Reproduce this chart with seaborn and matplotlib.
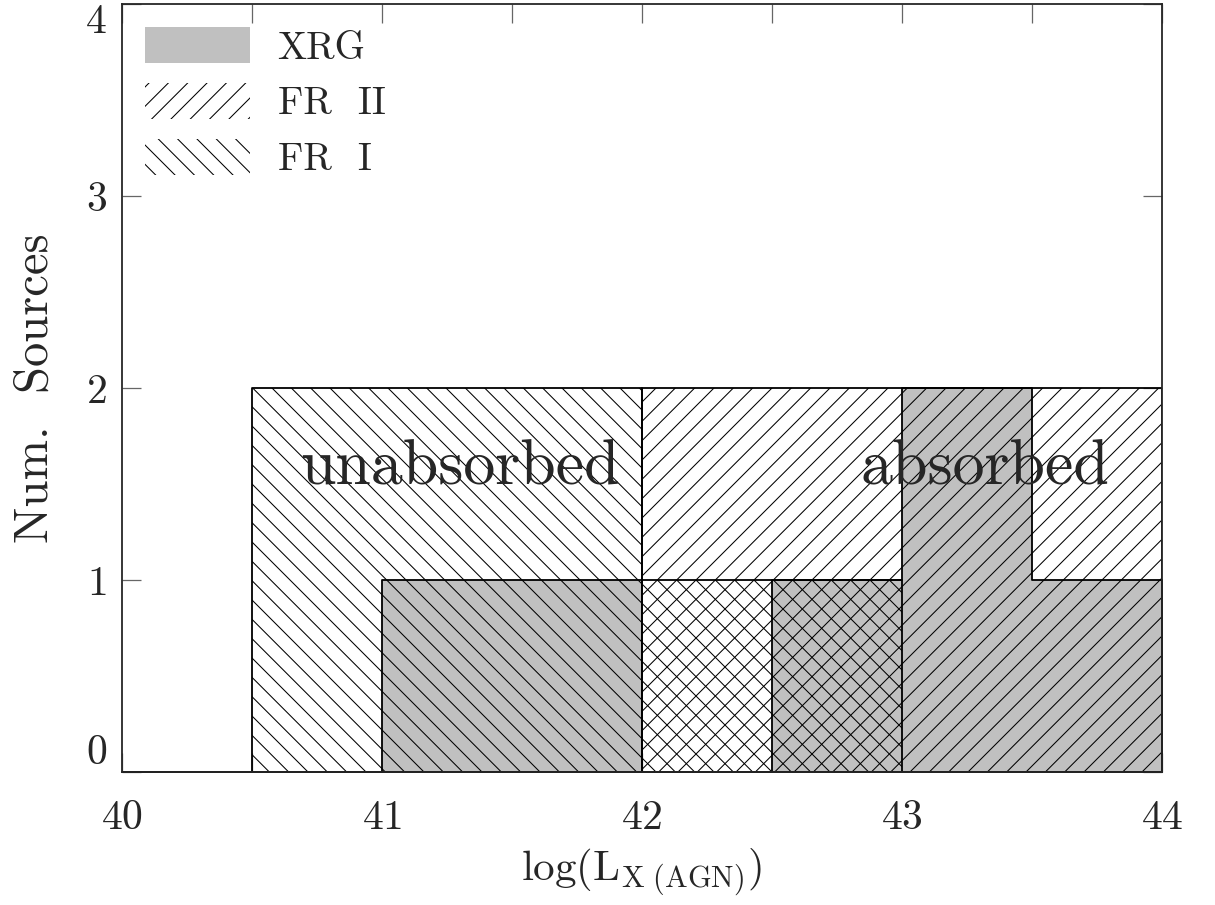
import matplotlib
matplotlib.use("Agg")
import matplotlib.pyplot as plt
from matplotlib.patches import Patch
from matplotlib.ticker import MultipleLocator
import seaborn as sns

# histogram bins in log(L_X) and counts per sample
bin_edges = [40.0, 40.5, 41.0, 41.5, 42.0, 42.5, 43.0, 43.5, 44.0]
bin_centers = [40.25, 40.75, 41.25, 41.75, 42.25, 42.75, 43.25, 43.75]
xrg_counts = [0, 0, 1, 1, 0, 1, 2, 1]
fr2_counts = [0, 0, 0, 0, 2, 2, 2, 2]
fr1_counts = [0, 2, 2, 2, 1, 1, 0, 0]
labels = ["XRG", "FR  II", "FR  I"]

# hatch spacing follows the dpi, so render at 116 dpi and rescale sizes
DPI = 116
k = 100 / DPI

sns.set_style("ticks")
plt.rcParams["font.family"] = ["cmr10", "DejaVu Serif"]
plt.rcParams["mathtext.fontset"] = "cm"
plt.rcParams["axes.formatter.use_mathtext"] = True
plt.rcParams["hatch.color"] = "black"
plt.rcParams["hatch.linewidth"] = 0.75 * k

fig = plt.figure(figsize=(1215 / DPI, 905 / DPI), dpi=DPI)
ax = fig.add_axes([0.1004, 0.147, 0.856, 0.8486])

gray = "#c0c0c0"
clear = (1, 1, 1, 0)
lw = 1.3 * k
sns.histplot(x=bin_centers, weights=xrg_counts, bins=bin_edges, element="step",
             fill=True, color=gray, facecolor=gray, edgecolor="black",
             linewidth=lw, ax=ax)
sns.histplot(x=bin_centers, weights=fr2_counts, bins=bin_edges, element="step",
             fill=True, color="black", facecolor=clear, edgecolor="black",
             hatch="//", linewidth=lw, ax=ax)
sns.histplot(x=bin_centers, weights=fr1_counts, bins=bin_edges, element="step",
             fill=True, color="black", facecolor=clear, edgecolor="black",
             hatch="\\\\", linewidth=lw, ax=ax)

ax.set_xlim(40, 44)
ax.set_ylim(0, 4)
ax.xaxis.set_major_locator(MultipleLocator(1))
ax.xaxis.set_minor_locator(MultipleLocator(0.5))
ax.yaxis.set_major_locator(MultipleLocator(1))
ax.tick_params(which="both", direction="in", top=True, right=True,
               length=14 * k, width=0.9 * k, color="#666666", labelsize=30 * k)
ax.tick_params(axis="x", pad=20 * k)
ax.tick_params(axis="y", pad=11 * k)
for s in ax.spines.values():
    s.set_linewidth(lw)

# keep the end labels of the y axis inside the frame
fig.canvas.draw()
for t in ax.yaxis.get_major_ticks():
    if t.get_loc() == 0:
        t.label1.set_verticalalignment("bottom")
    elif t.get_loc() == 4:
        t.label1.set_verticalalignment("top")

ax.set_xlabel(r"log(L$_{\rm X\ (AGN)}$)", fontsize=31 * k, labelpad=7 * k)
ax.set_ylabel("Num.  Sources", fontsize=35 * k, labelpad=20 * k)

ax.text(41.3, 1.58, "unabsorbed", ha="center", va="center", fontsize=46 * k)
ax.text(43.32, 1.58, "absorbed", ha="center", va="center", fontsize=46 * k)

handles = [Patch(facecolor=gray, edgecolor="none"),
           Patch(facecolor="none", edgecolor="black", hatch="//", linewidth=0),
           Patch(facecolor="none", edgecolor="black", hatch="\\\\", linewidth=0)]
ax.legend(handles, labels, loc="upper left", frameon=False, fontsize=28 * k,
          handlelength=2.7, handleheight=1.05, labelspacing=0.42,
          handletextpad=0.7, borderaxespad=0.2, bbox_to_anchor=(0.0, 1.0))

fig.savefig("out.png", dpi=DPI)
